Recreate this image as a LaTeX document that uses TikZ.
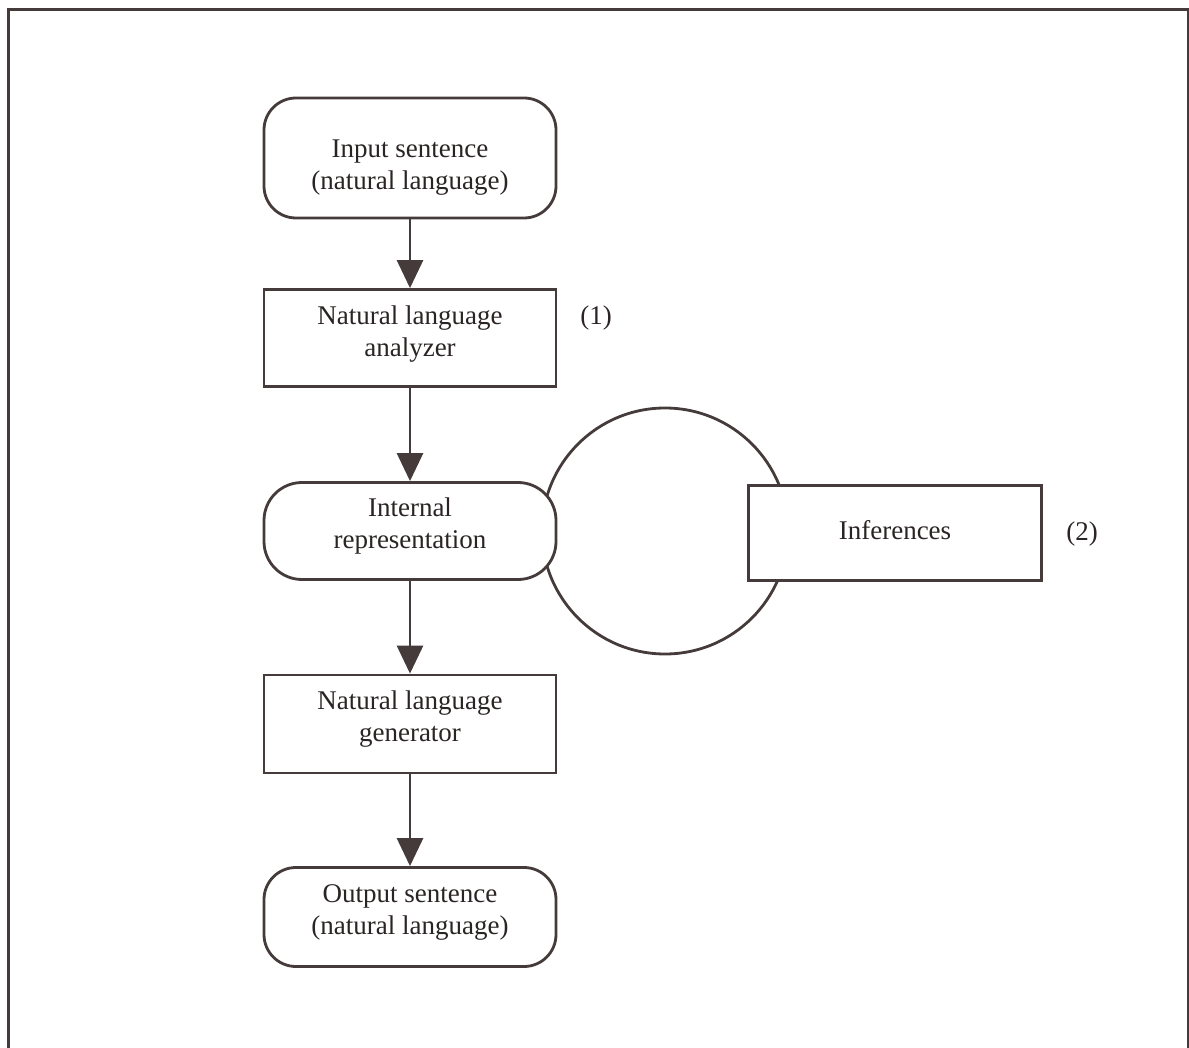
\documentclass[tikz,border=0pt]{standalone}
\usepackage{fontspec}
\setmainfont{Liberation Serif}
\usetikzlibrary{arrows.meta}
\definecolor{ink}{HTML}{453B3B}
\definecolor{txt}{HTML}{2B2424}
% centred lines of text, moved vertically by #1 without changing the node size
\newcommand\boxtext[2]{\raisebox{#1}[\height][\depth]{\begin{tabular}{@{}c@{}}#2\end{tabular}}}
\begin{document}
\begin{tikzpicture}[x=1pt,y=-1pt,
  every node/.style={text=txt, font=\fontsize{27}{32}\selectfont, align=center, inner sep=0pt},
  box/.style={draw=ink, line width=2.8pt, fill=white, minimum width=292pt, minimum height=97pt},
  roundbox/.style={box, rounded corners=32pt},
  arr/.style={draw=ink, line width=2.8pt, -{Triangle[width=26pt,length=28pt]}},
  tag/.style={font=\fontsize{27}{32}\selectfont}]
\useasboundingbox (0,0) rectangle (1189,1048);
% page frame (open at the bottom)
\draw[ink, line width=3pt] (8,1052) -- (8,10) -- (1188,10) -- (1188,1052);
% loop between representation and inferences
\node[circle, draw=ink, line width=2.8pt, minimum size=246pt] (loop) at (665,531) {};
% main chain
\node[roundbox, minimum height=120pt] (inp) at (410,158) {\boxtext{-9pt}{Input sentence\\(natural language)}};
\node[box] (ana) at (410,338) {\boxtext{4pt}{Natural language\\analyzer}};
\node[roundbox, rounded corners=38pt] (rep) at (410,531) {\boxtext{5pt}{Internal\\representation}};
\node[box, minimum height=98pt] (gen) at (410,724) {\boxtext{5pt}{Natural language\\generator}};
\node[roundbox, minimum height=99pt] (out) at (410,917) {\boxtext{5pt}{Output sentence\\(natural language)}};
\node[box, minimum width=293pt, minimum height=95pt] (inf) at (895,533) {\boxtext{0pt}{Inferences}};
% side labels
\node[tag] (t1) at (596,318) {(1)};
\node[tag] (t2) at (1082,534) {(2)};
% arrows
\draw[arr] (inp.south) -- (ana.north);
\draw[arr] (ana.south) -- (rep.north);
\draw[arr] (rep.south) -- (gen.north);
\draw[arr] (gen.south) -- (out.north);
\end{tikzpicture}
\end{document}
